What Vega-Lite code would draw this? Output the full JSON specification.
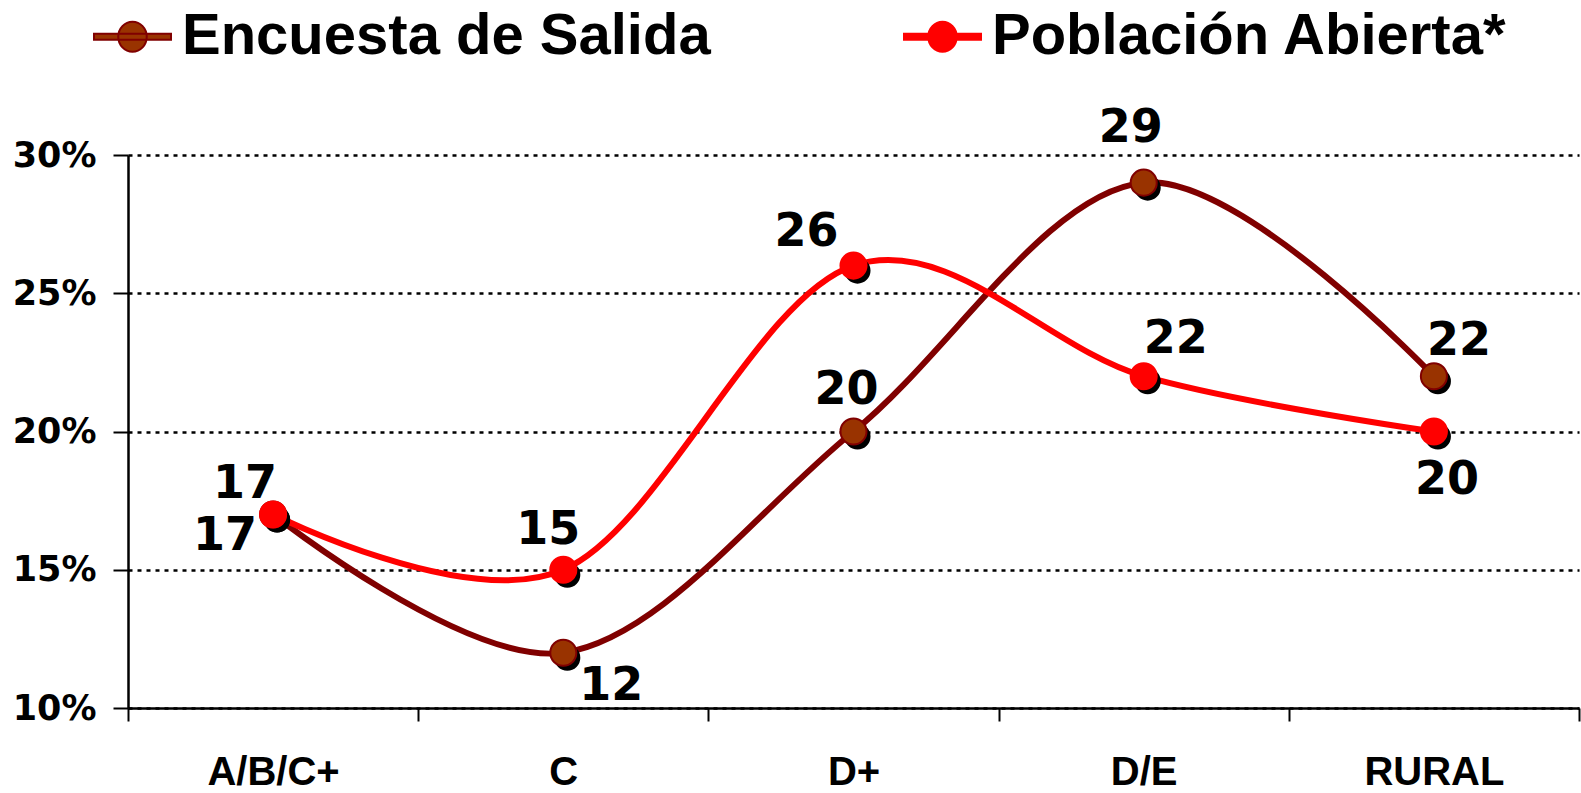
{
  "$schema": "https://vega.github.io/schema/vega-lite/v6.json",
  "autosize": "none",
  "width": 1451,
  "height": 553,
  "padding": {"left": 128, "top": 155, "right": 2, "bottom": 85},
  "background": "white",
  "config": {
    "view": {"stroke": null},
    "legend": {
      "title": null, "orient": "none", "direction": "horizontal",
      "legendX": -35, "legendY": -158, "padding": 0,
      "gridAlign": "all", "columnPadding": 189,
      "symbolType": "M-1,-0.08H1V0.08H-1Z M0.37,0A0.37,0.39,0,1,1,-0.37,0A0.37,0.39,0,1,1,0.37,0Z",
      "symbolSize": 5929, "symbolStrokeWidth": 2, "symbolOpacity": 1,
      "labelFont": "Liberation Sans", "labelFontWeight": "bold", "labelFontSize": 58,
      "labelColor": "black", "labelOffset": 10, "labelLimit": 0
    }
  },
  "data": {
    "values": [
      {"cat": "A/B/C+", "series": "Encuesta de Salida", "value": 17},
      {"cat": "C", "series": "Encuesta de Salida", "value": 12},
      {"cat": "D+", "series": "Encuesta de Salida", "value": 20},
      {"cat": "D/E", "series": "Encuesta de Salida", "value": 29},
      {"cat": "RURAL", "series": "Encuesta de Salida", "value": 22},
      {"cat": "A/B/C+", "series": "Población Abierta*", "value": 17},
      {"cat": "C", "series": "Población Abierta*", "value": 15},
      {"cat": "D+", "series": "Población Abierta*", "value": 26},
      {"cat": "D/E", "series": "Población Abierta*", "value": 22},
      {"cat": "RURAL", "series": "Población Abierta*", "value": 20}
    ]
  },
  "encoding": {
    "x": {
      "field": "cat", "type": "nominal", "sort": null,
      "scale": {"paddingInner": 0, "paddingOuter": 0},
      "axis": {
        "title": null, "labelAngle": 0, "tickBand": "extent",
        "domainColor": "black", "domainWidth": 2.5,
        "tickColor": "black", "tickWidth": 2, "tickSize": 13,
        "labelFont": "Liberation Sans", "labelFontWeight": "bold", "labelFontSize": 40,
        "labelColor": "black", "labelBaseline": "alphabetic", "labelPadding": 63, "grid": false
      }
    },
    "y": {
      "field": "value", "type": "quantitative",
      "scale": {"domain": [10, 30], "nice": false, "zero": false},
      "axis": {
        "title": null, "values": [10, 15, 20, 25, 30],
        "labelExpr": "datum.value + '%'",
        "domainColor": "black", "domainWidth": 2.5,
        "tickColor": "black", "tickWidth": 2, "tickSize": 15,
        "labelFont": "DejaVu Sans", "labelFontWeight": "bold", "labelFontSize": 35,
        "labelColor": "black", "labelPadding": 17,
        "grid": true, "gridColor": "black", "gridDash": [4, 5], "gridWidth": 2.5
      }
    }
  },
  "layer": [
    {
      "mark": {"type": "line", "interpolate": "cardinal", "strokeWidth": 6},
      "encoding": {
        "stroke": {
          "field": "series", "type": "nominal", "sort": null,
          "scale": {"domain": ["Encuesta de Salida", "Población Abierta*"], "range": ["#800000", "#FF0000"]}
        }
      }
    },
    {
      "mark": {"type": "point", "shape": "circle", "filled": true, "size": 680, "color": "black", "opacity": 1, "xOffset": 4, "yOffset": 5}
    },
    {
      "mark": {"type": "point", "shape": "circle", "filled": true, "size": 680, "opacity": 1, "strokeWidth": 2},
      "encoding": {
        "fill": {
          "field": "series", "type": "nominal", "sort": null,
          "scale": {"domain": ["Encuesta de Salida", "Población Abierta*"], "range": ["#993300", "#FF0000"]}
        },
        "stroke": {
          "field": "series", "type": "nominal", "sort": null,
          "scale": {"domain": ["Encuesta de Salida", "Población Abierta*"], "range": ["#800000", "#FF0000"]}
        }
      }
    },
    {
      "transform": [{"filter": "datum.series === 'Encuesta de Salida' && datum.cat === 'A/B/C+'"}],
      "mark": {"type": "text", "font": "DejaVu Sans", "fontWeight": "bold", "fontSize": 46, "color": "black", "baseline": "middle", "dx": -48, "dy": 22},
      "encoding": {"text": {"field": "value"}}
    },
    {
      "transform": [{"filter": "datum.series === 'Encuesta de Salida' && datum.cat === 'C'"}],
      "mark": {"type": "text", "font": "DejaVu Sans", "fontWeight": "bold", "fontSize": 46, "color": "black", "baseline": "middle", "dx": 48, "dy": 33},
      "encoding": {"text": {"field": "value"}}
    },
    {
      "transform": [{"filter": "datum.series === 'Encuesta de Salida' && datum.cat === 'D+'"}],
      "mark": {"type": "text", "font": "DejaVu Sans", "fontWeight": "bold", "fontSize": 46, "color": "black", "baseline": "middle", "dx": -7, "dy": -42},
      "encoding": {"text": {"field": "value"}}
    },
    {
      "transform": [{"filter": "datum.series === 'Encuesta de Salida' && datum.cat === 'D/E'"}],
      "mark": {"type": "text", "font": "DejaVu Sans", "fontWeight": "bold", "fontSize": 46, "color": "black", "baseline": "middle", "dx": -13, "dy": -55},
      "encoding": {"text": {"field": "value"}}
    },
    {
      "transform": [{"filter": "datum.series === 'Encuesta de Salida' && datum.cat === 'RURAL'"}],
      "mark": {"type": "text", "font": "DejaVu Sans", "fontWeight": "bold", "fontSize": 46, "color": "black", "baseline": "middle", "dx": 25, "dy": -35},
      "encoding": {"text": {"field": "value"}}
    },
    {
      "transform": [{"filter": "datum.series === 'Población Abierta*' && datum.cat === 'A/B/C+'"}],
      "mark": {"type": "text", "font": "DejaVu Sans", "fontWeight": "bold", "fontSize": 46, "color": "black", "baseline": "middle", "dx": -28, "dy": -30},
      "encoding": {"text": {"field": "value"}}
    },
    {
      "transform": [{"filter": "datum.series === 'Población Abierta*' && datum.cat === 'C'"}],
      "mark": {"type": "text", "font": "DejaVu Sans", "fontWeight": "bold", "fontSize": 46, "color": "black", "baseline": "middle", "dx": -15, "dy": -40},
      "encoding": {"text": {"field": "value"}}
    },
    {
      "transform": [{"filter": "datum.series === 'Población Abierta*' && datum.cat === 'D+'"}],
      "mark": {"type": "text", "font": "DejaVu Sans", "fontWeight": "bold", "fontSize": 46, "color": "black", "baseline": "middle", "dx": -47, "dy": -34},
      "encoding": {"text": {"field": "value"}}
    },
    {
      "transform": [{"filter": "datum.series === 'Población Abierta*' && datum.cat === 'D/E'"}],
      "mark": {"type": "text", "font": "DejaVu Sans", "fontWeight": "bold", "fontSize": 46, "color": "black", "baseline": "middle", "dx": 32, "dy": -37},
      "encoding": {"text": {"field": "value"}}
    },
    {
      "transform": [{"filter": "datum.series === 'Población Abierta*' && datum.cat === 'RURAL'"}],
      "mark": {"type": "text", "font": "DejaVu Sans", "fontWeight": "bold", "fontSize": 46, "color": "black", "baseline": "middle", "dx": 13, "dy": 48},
      "encoding": {"text": {"field": "value"}}
    }
  ]
}
